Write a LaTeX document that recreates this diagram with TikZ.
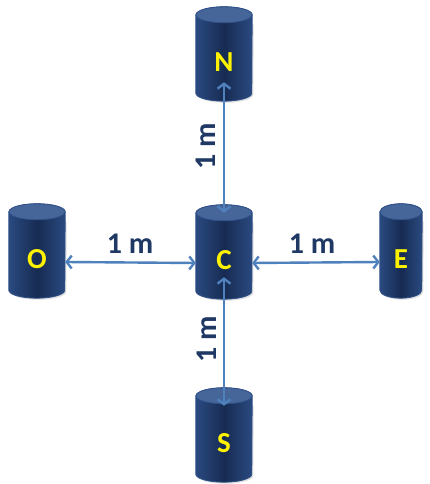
\documentclass[tikz,border=0pt]{standalone}
\usepackage{fontspec}
\setmainfont{Carlito}
\usetikzlibrary{arrows.meta}
\definecolor{cylbody}{HTML}{172B52}
\definecolor{cylside}{HTML}{2A4A80}
\definecolor{cyltop}{HTML}{46669A}
\definecolor{cylline}{HTML}{2F5088}
\definecolor{arrowblue}{HTML}{4F81BD}
\definecolor{lblcol}{HTML}{1F3864}
\pgfdeclarelayer{bg}
\pgfsetlayers{bg,main}
\tikzset{
 cylnode/.style={rectangle, inner sep=0pt, minimum height=78pt, minimum width=56pt, text=yellow, font=\bfseries\fontsize{29}{29}\selectfont},
 dist/.style={draw=arrowblue, line width=2.4pt, {Straight Barb[length=5pt,width=13pt]}-{Straight Barb[length=5pt,width=13pt]}},
 lbl/.style={text=lblcol, font=\bfseries\fontsize{30}{30}\selectfont, inner sep=0pt},
}
\newcommand\drawcyl[2]{%
 \fill[black!12] ([shift={(1.5pt,-1.5pt)}]#1.north west) -- ([shift={(1.5pt,6.5pt)}]#1.south west) arc[start angle=180,end angle=360,x radius=#2,y radius=8pt] -- ([shift={(1.5pt,-1.5pt)}]#1.north east) -- cycle;
 \shade[left color=cylside, right color=cylside, middle color=cylbody] ([yshift=8pt]#1.north west) -- ([yshift=8pt]#1.south west) arc[start angle=180,end angle=360,x radius=#2,y radius=8pt] -- ([yshift=8pt]#1.north east) arc[start angle=0,end angle=180,x radius=#2,y radius=8pt] -- cycle;
 \draw[cylline, line width=0.8pt] ([yshift=8pt]#1.north west) -- ([yshift=8pt]#1.south west) arc[start angle=180,end angle=360,x radius=#2,y radius=8pt] -- ([yshift=8pt]#1.north east) arc[start angle=0,end angle=180,x radius=#2,y radius=8pt] -- cycle;
 \fill[cyltop, draw=cylline, line width=0.8pt] ([yshift=8pt]#1.north) ellipse[x radius=#2, y radius=8pt];
}
\begin{document}
\begin{tikzpicture}[x=1pt,y=1pt]
\useasboundingbox (0,0) rectangle (429,484);
\node[cylnode] (N) at (224,422) {N};
\node[cylnode] (C) at (224,224) {C};
\node[cylnode] (O) at (37,225) {O};
\node[cylnode, minimum width=42pt] (E) at (401,225) {E};
\node[cylnode] (S) at (224,41) {S};
\begin{pgfonlayer}{bg}
\fill[white] (0,0) rectangle (429,484);
\drawcyl{N}{28pt}
\drawcyl{C}{28pt}
\drawcyl{O}{28pt}
\drawcyl{E}{21pt}
\drawcyl{S}{28pt}
\end{pgfonlayer}
\draw[dist] ([yshift=19pt]N.south) -- ([yshift=8pt]C.north);
\draw[dist] ([yshift=22pt]C.south) -- ([yshift=-2pt]S.north);
\draw[dist] ([yshift=-3pt]O.east) -- ([yshift=-3pt]C.west);
\draw[dist] ([yshift=-3pt]C.east) -- ([yshift=-3pt]E.west);
\node[lbl] (l1) at (130,240) {1 m};
\node[lbl] (l2) at (312,240) {1 m};
\node[lbl, rotate=90] (l3) at (206,338) {1 m};
\node[lbl, rotate=90] (l4) at (207,145) {1 m};
\end{tikzpicture}
\end{document}
